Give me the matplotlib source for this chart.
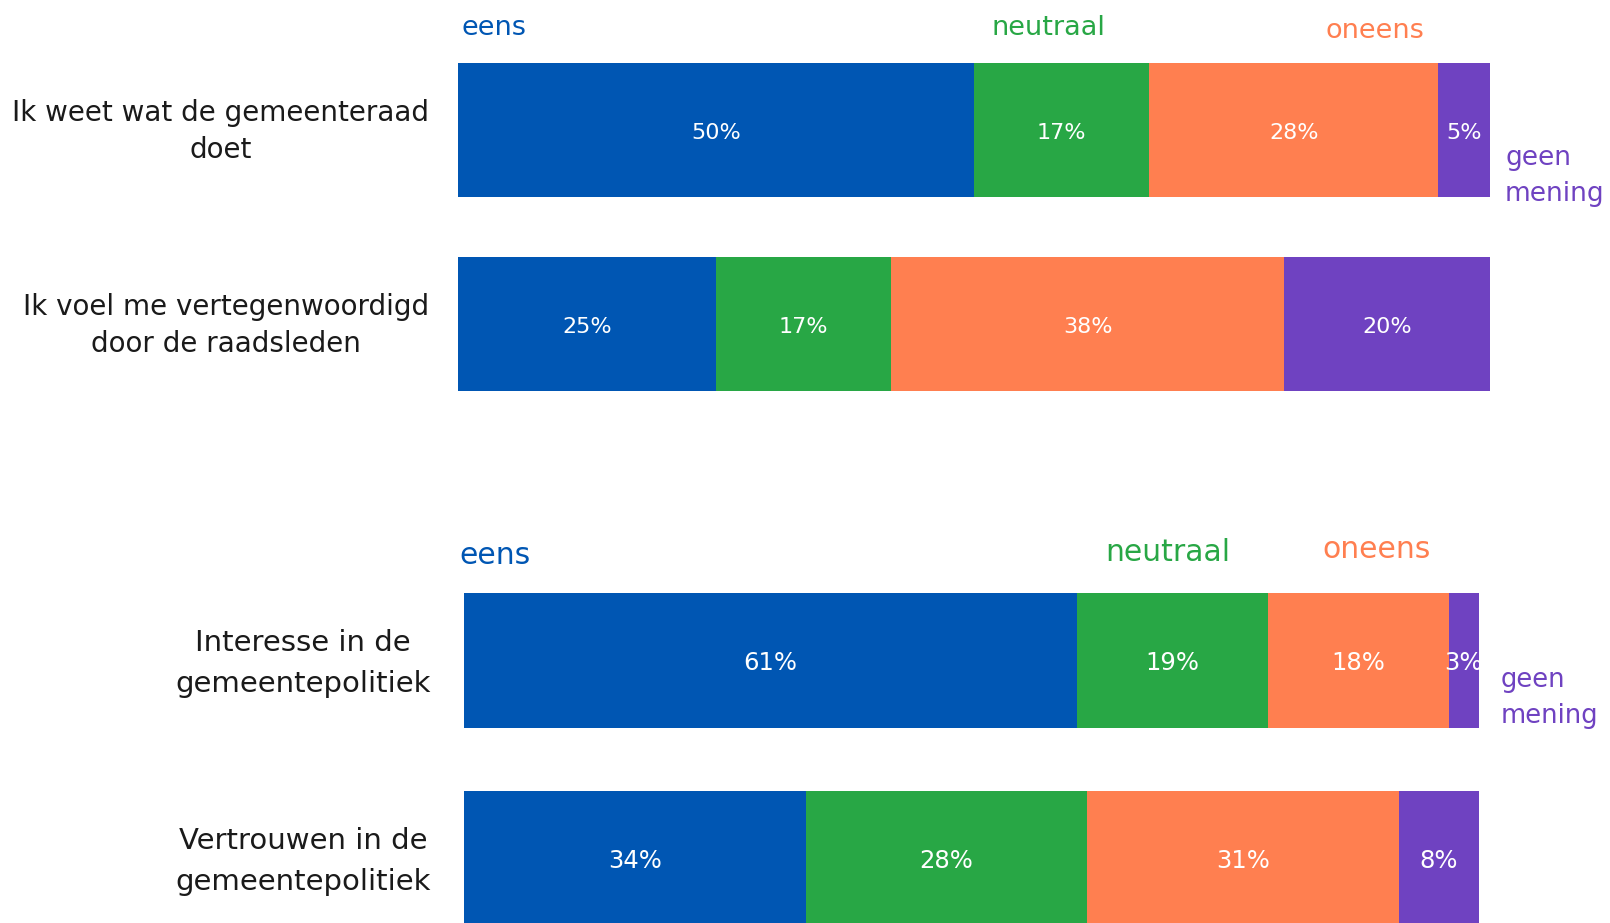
import matplotlib
matplotlib.use("Agg")
import matplotlib.pyplot as plt
import matplotlib.transforms as mtransforms
import numpy as np

# survey answers, share of respondents in %
categories = ["eens", "neutraal", "oneens", "geen mening"]
colors = ["#0056b3", "#28a745", "#ff7f50", "#6f42c1"]

questions_top = [
    "Ik weet wat de gemeenteraad\ndoet",
    "Ik voel me vertegenwoordigd\ndoor de raadsleden",
]
eens_top = [50, 25]
neutraal_top = [17, 17]
oneens_top = [28, 38]
geen_mening_top = [5, 20]

questions_bottom = [
    "Interesse in de\ngemeentepolitiek",
    "Vertrouwen in de\ngemeentepolitiek",
]
eens_bottom = [61, 34]
neutraal_bottom = [19, 28]
oneens_bottom = [18, 31]
geen_mening_bottom = [3, 8]


def stacked_panel(ax, questions, series, bar_height, label_size, pct_size, pad, spacing):
    y = np.arange(len(questions))
    left = np.zeros(len(questions))
    for values, color in zip(series, colors):
        values = np.array(values, dtype=float)
        ax.barh(y, values, left=left, height=bar_height, color=color, edgecolor="none")
        for yi, l, v in zip(y, left, values):
            ax.text(l + v / 2, yi + 0.015, f"{v:.0f}%", ha="center", va="center",
                    color="white", fontsize=pct_size, clip_on=True)
        left += values
    ax.set_xlim(0, left.max())
    ax.set_ylim(len(questions) - 1 + bar_height / 2, -bar_height / 2)
    ax.set_yticks(y)
    ax.set_yticklabels(questions, fontsize=label_size, color="#1a1a1a",
                       multialignment="center", linespacing=spacing)
    ax.tick_params(axis="y", length=0, pad=pad)
    # nudge the two-line question labels up a little
    shift = mtransforms.ScaledTranslation(0, 4.5 / 72, ax.figure.dpi_scale_trans)
    for lbl in ax.get_yticklabels():
        lbl.set_transform(lbl.get_transform() + shift)
    ax.set_xticks([])
    for s in ax.spines.values():
        s.set_visible(False)


def header(ax, xs, ys, aligns, size, mening_xy, mening_size):
    for cat, color, x, y, ha in zip(categories[:3], colors[:3], xs, ys, aligns):
        ax.text(x, y, cat, transform=ax.transAxes, ha=ha, va="baseline",
                color=color, fontsize=size)
    ax.text(mening_xy[0], mening_xy[1], "geen\nmening", transform=ax.transAxes,
            ha="left", va="center", color=colors[3], fontsize=mening_size,
            linespacing=1.5)


fig = plt.figure(figsize=(16.1, 9.23), dpi=100)

ax1 = fig.add_axes([0.2845, 0.5762, 0.641, 0.356])
stacked_panel(ax1, questions_top,
              [eens_top, neutraal_top, oneens_top, geen_mening_top],
              bar_height=0.693, label_size=20, pct_size=16, pad=21, spacing=1.42)
header(ax1, [0.003, 0.572, 0.888], [1.084, 1.084, 1.075], ["left", "center", "center"],
       19.5, (1.0145, 0.655), 19)

ax2 = fig.add_axes([0.2882, -0.00325, 0.6304, 0.3613])
stacked_panel(ax2, questions_bottom,
              [eens_bottom, neutraal_bottom, oneens_bottom, geen_mening_bottom],
              bar_height=0.684, label_size=21, pct_size=17.5, pad=24, spacing=1.6)
header(ax2, [-0.005, 0.693, 0.899], [1.085, 1.096, 1.105], ["left", "center", "center"],
       21.5, (1.0217, 0.685), 18.5)

fig.savefig("out.png", dpi=100)
